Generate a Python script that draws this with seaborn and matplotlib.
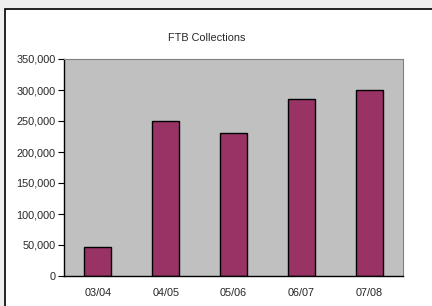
import matplotlib
matplotlib.use('Agg')
import matplotlib.pyplot as plt
from matplotlib.patches import Rectangle
from matplotlib.ticker import FuncFormatter, FixedLocator
import seaborn as sns
import pandas as pd

years = ['03/04', '04/05', '05/06', '06/07', '07/08']
collections = [46000, 250000, 230000, 285000, 300000]

df = pd.DataFrame({'year': years, 'collections': collections})

sns.set_style('white')
plt.rcParams['font.family'] = ['Liberation Sans', 'DejaVu Sans']

fig = plt.figure(figsize=(4.32, 3.06), dpi=100)
fig.patch.set_facecolor('#efefef')
# white chart box with black frame, running off the right and bottom edges
fig.patches.append(Rectangle((5 / 432, -0.1), 1.1, 1.1 - 9 / 306, transform=fig.transFigure,
                             facecolor='white', edgecolor='black', lw=1.2, zorder=-10))

ax = fig.add_axes([64 / 432, 1 - 276 / 306, (403 - 64) / 432, (276 - 59) / 306])
ax.set_zorder(5)
ax.set_facecolor('#c0c0c0')
sns.barplot(data=df, x='year', y='collections', color='#993366', saturation=1,
            width=0.4, edgecolor='black', linewidth=1, ax=ax)

ax.set_ylim(0, 350000)
ax.set_xlim(-0.5, 4.5)
ax.set_yticks(range(0, 350001, 50000))
ax.yaxis.set_major_formatter(FuncFormatter(lambda v, p: f'{int(v):,}'))
ax.xaxis.set_major_locator(FixedLocator(range(5)))
ax.set_xticklabels(years)
ax.xaxis.set_minor_locator(FixedLocator([-0.5, 0.5, 1.5, 2.5, 3.5, 4.5]))
ax.tick_params(axis='x', which='major', length=0, labelsize=7.8, pad=9)
ax.tick_params(axis='x', which='minor', length=4, width=0.8, color='black', direction='out')
ax.tick_params(axis='y', length=4, width=0.8, color='black', labelsize=7.8, pad=2, left=True)
ax.set_xlabel('')
ax.set_ylabel('')

for s in ['left', 'bottom']:
    ax.spines[s].set_color('black')
    ax.spines[s].set_linewidth(1)
for s in ['top', 'right']:
    ax.spines[s].set_visible(True)
    ax.spines[s].set_color('#808080')
    ax.spines[s].set_linewidth(0.8)

fig.text(207 / 432, 1 - 38 / 306, 'FTB Collections', ha='center', va='center', fontsize=7.8)

fig.savefig('out.png', dpi=100)
